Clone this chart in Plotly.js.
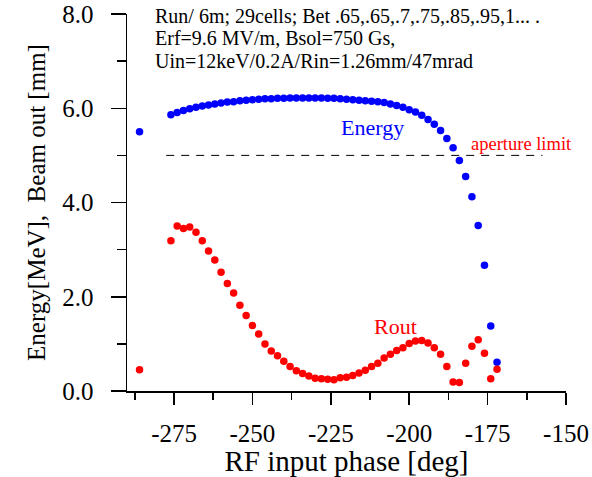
<!DOCTYPE html>
<html>
<head>
<meta charset="utf-8">
<script src="https://cdn.plot.ly/plotly-3.0.1.min.js"></script>
<style>html,body{margin:0;padding:0;background:#fff;}#chart{width:592px;height:477px;}</style>
</head>
<body>
<div id="chart"></div>
<script>
// RF input phase [deg]
const phase = [-286, -276, -274, -272, -270, -268, -266, -264, -262, -260, -258, -256, -254, -252, -250,
  -248, -246, -244, -242, -240, -238, -236, -234, -232, -230, -228, -226, -224, -222, -220,
  -218, -216, -214, -212, -210, -208, -206, -204, -202, -200, -198, -196, -194, -192, -190,
  -188, -186, -184, -182, -180, -178, -176, -174, -172];
// Energy [MeV]
const energy = [5.50, 5.86, 5.91, 5.95, 5.99, 6.02, 6.05, 6.07, 6.09, 6.11, 6.13, 6.14, 6.16, 6.17, 6.18,
  6.19, 6.20, 6.20, 6.21, 6.21, 6.22, 6.22, 6.22, 6.22, 6.22, 6.22, 6.21, 6.21, 6.20, 6.19,
  6.18, 6.17, 6.16, 6.15, 6.14, 6.12, 6.09, 6.06, 6.02, 5.97, 5.92, 5.85, 5.76, 5.66, 5.53,
  5.36, 5.16, 4.89, 4.55, 4.12, 3.51, 2.67, 1.38, 0.61];
// Rout [mm]
const rout = [0.45, 3.19, 3.50, 3.45, 3.48, 3.37, 3.19, 2.97, 2.78, 2.52, 2.28, 2.08, 1.82, 1.60, 1.39,
  1.21, 1.00, 0.85, 0.75, 0.63, 0.52, 0.43, 0.37, 0.32, 0.27, 0.26, 0.25, 0.24, 0.28, 0.29,
  0.33, 0.38, 0.44, 0.52, 0.59, 0.70, 0.78, 0.86, 0.92, 1.01, 1.06, 1.07, 1.02, 0.92, 0.78,
  0.52, 0.19, 0.18, 0.59, 0.95, 1.09, 0.80, 0.26, 0.46];
// aperture limit line
const apertureX = [-277.5, -157.5];
const apertureY = [5.0, 5.0];
// tick labels
const yTickVals = [0, 2, 4, 6, 8];
const yTickText = ["0.0", "2.0", "4.0", "6.0", "8.0"];
const xTickVals = [-275, -250, -225, -200, -175, -150];
const xTickText = ["-275", "-250", "-225", "-200", "-175", "-150"];
const infoLines = ["Run/ 6m; 29cells; Bet .65,.65,.7,.75,.85,.95,1... .",
  "Erf=9.6 MV/m, Bsol=750 Gs,",
  "Uin=12keV/0.2A/Rin=1.26mm/47mrad"];

const serif = "Liberation Serif, Times New Roman, serif";

const traces = [
  {x: apertureX, y: apertureY, mode: "lines", line: {color: "#000", width: 1, dash: "8px,7px"}, hoverinfo: "skip", showlegend: false},
  {x: phase, y: energy, mode: "markers", marker: {color: "#0000ff", size: 7.5}, showlegend: false, name: "Energy"},
  {x: phase, y: rout, mode: "markers", marker: {color: "#ff0000", size: 7.5}, showlegend: false, name: "Rout"}
];

function ann(text, x, y, size, color) {
  return {text: text, xref: "paper", yref: "paper", x: x, y: y, xanchor: "left", yanchor: "middle",
    showarrow: false, font: {family: serif, size: size, color: color}};
}

const layout = {
  width: 592, height: 477,
  margin: {l: 127, r: 26, t: 14, b: 86, pad: 0},
  paper_bgcolor: "#fff", plot_bgcolor: "#fff",
  showlegend: false,
  xaxis: {
    range: [-290, -150], tickmode: "array", tickvals: xTickVals, ticktext: xTickText,
    ticks: "outside", ticklen: 12, tickwidth: 1.5, tickcolor: "#000",
    showline: true, linecolor: "#000", linewidth: 1.5, showgrid: false, zeroline: false,
    minor: {tickmode: "linear", tick0: -287.5, dtick: 25, ticks: "outside", ticklen: 7, tickwidth: 1.5, tickcolor: "#000", showgrid: false},
    tickfont: {family: serif, size: 25, color: "#000"},
    ticklabelstandoff: 7,
    title: {text: "RF input phase [deg]", font: {family: serif, size: 29, color: "#000"}, standoff: 2}
  },
  yaxis: {
    range: [0, 8], tickmode: "array", tickvals: yTickVals, ticktext: yTickText,
    ticks: "outside", ticklen: 15, tickwidth: 1.5, tickcolor: "#000",
    showline: true, linecolor: "#000", linewidth: 1.5, showgrid: false, zeroline: false,
    minor: {tickmode: "linear", tick0: 1, dtick: 2, ticks: "outside", ticklen: 9, tickwidth: 1.5, tickcolor: "#000", showgrid: false},
    tickfont: {family: serif, size: 25, color: "#000"},
    ticklabelstandoff: 12,
    title: {text: "Energy[MeV],&nbsp; Beam out [mm]", font: {family: serif, size: 25, color: "#000"}, standoff: 9}
  },
  annotations: [
    ann(infoLines[0], 0.0592, 0.995, 20, "#000"),
    ann(infoLines[1], 0.0592, 0.936, 20, "#000"),
    ann(infoLines[2], 0.0592, 0.876, 20, "#000"),
    ann("Energy", 0.482, 0.698, 22, "#0000ff"),
    ann("aperture limit", 0.778, 0.655, 18.5, "#ff0000"),
    ann("Rout", 0.558, 0.172, 22, "#ff0000")
  ]
};

Plotly.newPlot("chart", traces, layout, {displayModeBar: false, staticPlot: true});
</script>
</body>
</html>
